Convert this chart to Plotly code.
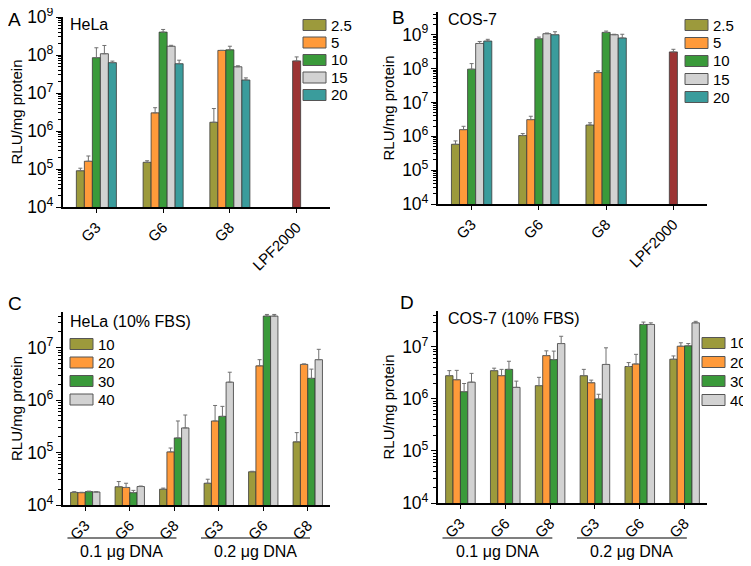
import plotly.graph_objects as go

# ---- data ----
ab_groups = ["G3", "G6", "G8", "LPF2000"]
ab_series = ["2.5", "5", "10", "15", "20"]
cd_groups = ["G3", "G6", "G8", "G3", "G6", "G8"]
cd_series = ["10", "20", "30", "40"]

# panel A, HeLa: mean and upper error for G3, G6, G8
hela_mean = [[9e4, 1.5e5, 1.7e6],
             [1.6e5, 3.0e6, 1.32e8],
             [8.5e7, 4.0e8, 1.37e8],
             [1.08e8, 1.7e8, 4.9e7],
             [6.3e7, 5.9e7, 2.2e7]]
hela_err = [[1.5e4, 1.5e4, 2.2e6],
            [6e4, 1.1e6, 0],
            [7e7, 7e7, 3.3e7],
            [7e7, 1e7, 3e6],
            [6e6, 1.4e7, 3e6]]
hela_lpf = 7e7
hela_lpf_err = 1.9e7

# panel B, COS-7
cos_mean = [[5.8e5, 1.05e6, 2.15e6],
            [1.57e6, 3.1e6, 7.6e7],
            [9.6e7, 7.6e8, 1.17e9],
            [5.5e8, 1.07e9, 1.0e9],
            [6.5e8, 1.0e9, 8e8]]
cos_err = [[1.5e5, 1.5e5, 3.5e5],
           [4e5, 8e5, 9e6],
           [4.4e7, 9e7, 1.1e8],
           [8e7, 5e7, 3e7],
           [8e7, 2.2e8, 2.3e8]]
cos_lpf = 3.1e8
cos_lpf_err = 6e7

# panel C, HeLa (10% FBS)
hela_fbs_mean = [[1.74e4, 2.23e4, 2.0e4, 2.6e4, 4.3e4, 1.6e5],
                 [1.72e4, 2.16e4, 1.03e5, 4.0e5, 4.5e6, 4.8e6],
                 [1.8e4, 1.72e4, 1.9e5, 4.9e5, 4.0e7, 2.6e6],
                 [1.77e4, 2.25e4, 2.95e5, 2.2e6, 4.0e7, 5.9e6]]
hela_fbs_err = [[6e2, 5.7e3, 1e3, 5e3, 1e3, 8e4],
                [3e2, 4.4e3, 1.9e4, 3.9e5, 1.4e6, 1e5],
                [4e2, 1.8e3, 2.1e5, 2.7e5, 3e6, 1.3e6],
                [2e2, 5e2, 2.25e5, 1.2e6, 3e6, 3.4e6]]

# panel D, COS-7 (10% FBS)
cos_fbs_mean = [[2.8e6, 3.5e6, 1.8e6, 2.8e6, 4.2e6, 5.8e6],
                [2.34e6, 2.8e6, 6.8e6, 2.05e6, 4.7e6, 1.03e7],
                [1.38e6, 3.7e6, 5.7e6, 1.0e6, 2.7e7, 1.05e7],
                [2.1e6, 1.67e6, 1.16e7, 4.6e6, 2.7e7, 2.9e7]]
cos_fbs_err = [[7e5, 4e5, 8e5, 9e5, 8e5, 9e5],
               [1.2e6, 9e5, 1.6e6, 2.5e5, 2.5e6, 1.7e6],
               [6e5, 1.6e6, 2.6e6, 2.3e5, 3e6, 1.1e6],
               [1e6, 5.3e5, 4.4e6, 5e6, 2e6, 2e6]]

dna_labels = ["0.1 \u03bcg DNA", "0.2 \u03bcg DNA"]

# ---- styling ----
colors5 = ["#9c9a3c", "#ff9a3a", "#3a9a3a", "#d2d2d2", "#3a9c9c"]
colors4 = ["#9c9a3c", "#ff9a3a", "#3a9a3a", "#d2d2d2"]
lpf_color = "#9c3434"
edge = "#3a3a3a"
FONT = "Arial, Liberation Sans, sans-serif"
# page body has an 8px margin, so the figure is 8px smaller than the window
PAD = 8
FW, FH = 751 - PAD, 566 - PAD


def fx(x):
    return (x - PAD) / FW


def fy(y):
    return 1 - (y - PAD) / FH


def err_dict(vals):
    return dict(type="data", symmetric=False, array=vals, arrayminus=[0] * len(vals),
                color="#707070", thickness=1, width=2)


fig = go.Figure()

# panels A and B
for ax, means, errs, lpf, lpf_err in [("", hela_mean, hela_err, hela_lpf, hela_lpf_err),
                                       ("2", cos_mean, cos_err, cos_lpf, cos_lpf_err)]:
    bw = 0.12
    for i, name in enumerate(ab_series):
        fig.add_trace(go.Bar(x=list(range(3)), y=means[i], name=name, width=bw,
                             offset=-bw * len(ab_series) / 2 + i * bw, showlegend=False,
                             marker=dict(color=colors5[i], line=dict(color=edge, width=0.8)),
                             error_y=err_dict(errs[i]), xaxis="x" + ax, yaxis="y" + ax))
    fig.add_trace(go.Bar(x=[3], y=[lpf], width=bw, offset=-bw / 2, showlegend=False,
                         marker=dict(color=lpf_color, line=dict(color=edge, width=0.8)),
                         error_y=err_dict([lpf_err]), xaxis="x" + ax, yaxis="y" + ax))

# panels C and D
for ax, means, errs in [("3", hela_fbs_mean, hela_fbs_err),
                        ("4", cos_fbs_mean, cos_fbs_err)]:
    bw = 0.165
    for i, name in enumerate(cd_series):
        fig.add_trace(go.Bar(x=list(range(len(cd_groups))), y=means[i], name=name, width=bw,
                             offset=-bw * len(cd_series) / 2 + i * bw, showlegend=False,
                             marker=dict(color=colors4[i], line=dict(color=edge, width=0.8)),
                             error_y=err_dict(errs[i]), xaxis="x" + ax, yaxis="y" + ax))


xcommon = dict(showline=True, linecolor="black", linewidth=1.5, ticks="outside", ticklen=4,
               tickcolor="black", showgrid=False, zeroline=False, tickangle=-45, automargin=False,
               tickfont=dict(size=15, color="black"))
ycommon = dict(type="log", showline=True, linecolor="black", linewidth=1.5, ticks="outside",
               ticklen=5, tickwidth=1.2, tickcolor="black", dtick=1, exponentformat="power",
               showgrid=False, zeroline=False, automargin=False, ticklabeloverflow="allow",
               tickfont=dict(size=14, color="black"),
               title=dict(text="RLU/mg protein", font=dict(size=15, color="black"), standoff=4),
               minor=dict(ticks="outside", ticklen=3, tickcolor="black", dtick="D1", showgrid=False))

fig.update_layout(
    width=FW, height=FH, margin=dict(l=0, r=0, t=0, b=0, autoexpand=False),
    plot_bgcolor="white", paper_bgcolor="white", barmode="overlay", showlegend=False,
    font=dict(family=FONT, color="black"),
    xaxis=dict(xcommon, domain=[fx(63), fx(330)], range=[-0.5, 3.5],
               tickvals=list(range(4)), ticktext=ab_groups, anchor="y"),
    yaxis=dict(ycommon, domain=[fy(207), fy(17)], range=[4, 9], anchor="x"),
    xaxis2=dict(xcommon, domain=[fx(438), fx(707)], range=[-0.5, 3.5],
                tickvals=list(range(4)), ticktext=ab_groups, anchor="y2"),
    yaxis2=dict(ycommon, domain=[fy(204), fy(12)], range=[4, 9.67], anchor="x2"),
    xaxis3=dict(xcommon, domain=[fx(63), fx(330)], range=[-0.5, 5.5],
                tickvals=list(range(6)), ticktext=cd_groups, anchor="y3"),
    yaxis3=dict(ycommon, domain=[fy(505), fy(312)], range=[4, 7.68], anchor="x3"),
    xaxis4=dict(xcommon, domain=[fx(438), fx(707)], range=[-0.5, 5.5],
                tickvals=list(range(6)), ticktext=cd_groups, anchor="y4"),
    yaxis4=dict(ycommon, domain=[fy(503), fy(311)], range=[4, 7.69], anchor="x4"),
)


# legends drawn as swatch + label (the reference uses wide flat swatches)
def add_legend(names, cols, left, first_y, step):
    for i, (name, col) in enumerate(zip(names, cols)):
        yc = first_y + i * step
        fig.add_shape(type="rect", xref="paper", yref="paper",
                      x0=fx(left), x1=fx(left + 23), y0=fy(yc + 5.5), y1=fy(yc - 5.5),
                      fillcolor=col, line=dict(color="#555555", width=1))
        fig.add_annotation(text=name, xref="paper", yref="paper", x=fx(left + 26), y=fy(yc),
                           xanchor="left", yanchor="middle", showarrow=False,
                           font=dict(size=15, color="black"))


add_legend(ab_series, colors5, 303, 25, 17.5)
add_legend(ab_series, colors5, 685, 25, 18)
add_legend(cd_series, colors4, 70, 344, 18.5)
add_legend(cd_series, colors4, 702, 343, 19)

# panel letters and cell line titles
notes = [("A", 6, 19, 19), ("B", 390, 18, 19), ("C", 6, 303, 19), ("D", 398, 302, 19),
         ("HeLa", 68, 24, 16), ("COS-7", 446, 20, 16),
         ("HeLa (10% FBS)", 68, 321, 16), ("COS-7 (10% FBS)", 446, 318, 16)]
for text, x, y, size in notes:
    fig.add_annotation(text=text, x=fx(x), y=fy(y), xref="paper", yref="paper",
                       xanchor="left", yanchor="middle", showarrow=False,
                       font=dict(size=size, color="black"))

# DNA amount brackets under panels C and D
for ax in ["x3", "x4"]:
    for k, label in enumerate(dna_labels):
        lo, hi = 3 * k - 0.4, 3 * k + 2.05
        fig.add_shape(type="line", xref=ax, yref="paper", x0=lo, x1=hi,
                      y0=fy(538), y1=fy(538), line=dict(color="black", width=1.2))
        fig.add_annotation(text=label, xref=ax, yref="paper", x=(lo + hi) / 2, y=fy(551),
                           showarrow=False, xanchor="center", yanchor="middle",
                           font=dict(size=16, color="black"))

fig.write_html("out.html")
